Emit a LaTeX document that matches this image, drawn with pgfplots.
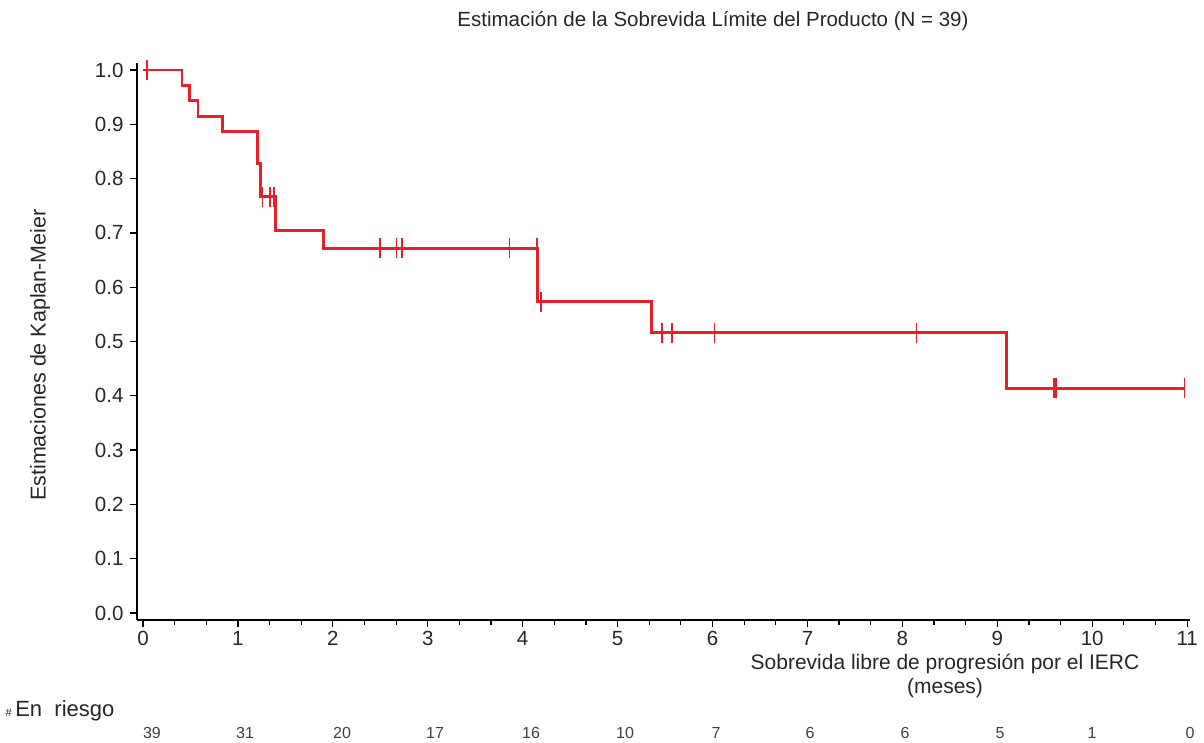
\documentclass[border=0pt]{standalone}
\usepackage{pgfplots}
\pgfplotsset{compat=1.18}
\usepackage{fontspec}
\setmainfont{Liberation Sans}
\definecolor{kmred}{RGB}{232,30,40}

\begin{document}
\begin{tikzpicture}
\useasboundingbox (0pt,0pt) rectangle (1204pt,742pt);
\begin{axis}[
    at={(137pt,122pt)}, anchor=south west,
    scale only axis, width=1053pt, height=557pt,
    xmin=-0.063, xmax=11.03, ymin=-0.013, ymax=1.013,
    axis x line=bottom, axis y line=left,
    axis line style={-, line width=2.6pt, black},
    xtick={0,1,...,11},
    minor x tick num=2,
    ytick={0,0.1,0.2,0.3,0.4,0.5,0.6,0.7,0.8,0.9,1.0},
    yticklabel style={/pgf/number format/fixed, /pgf/number format/fixed zerofill, /pgf/number format/precision=1, xshift=-3pt},
    tick align=outside,
    major tick length=7pt, minor tick length=5pt,
    tick style={black, line width=1.2pt},
    ticklabel style={font=\fontsize{20.5}{22}\selectfont, text=black!85},
    /pgf/number format/assume math mode=true,
    xticklabel style={yshift=-1pt},
    clip=false,
]
% Kaplan-Meier step curve
\addplot[const plot, kmred, line width=2.8pt] coordinates {
    (0,1.0) (0.41,0.972) (0.49,0.944) (0.58,0.915) (0.84,0.887)
    (1.21,0.828) (1.24,0.767) (1.40,0.705) (1.90,0.672) (4.16,0.573)
    (5.36,0.516) (9.10,0.414) (10.97,0.414)
};
% censored observations
\addplot[only marks, mark=|, mark size=10pt, kmred, mark options={line width=1.6pt}] coordinates {
    (0.04,1.0) (1.26,0.767) (1.34,0.767) (1.38,0.767)
    (2.50,0.672) (2.67,0.672) (2.73,0.672) (3.86,0.672) (4.15,0.672)
    (4.19,0.573) (5.47,0.516) (5.57,0.516) (6.02,0.516) (8.15,0.516)
    (9.60,0.414) (9.62,0.414) (10.97,0.414)
};
\end{axis}
\node[font=\fontsize{20.5}{22}\selectfont, text=black!85] at (713pt,721pt) {Estimación de la Sobrevida Límite del Producto (N = 39)};
\node[font=\fontsize{21.5}{22}\selectfont, rotate=90, text=black!85] at (40pt,387pt) {Estimaciones de Kaplan-Meier};
\node[font=\fontsize{21}{24}\selectfont, align=center, text=black!85] at (945pt,66pt) {Sobrevida libre de progresión por el IERC\\(meses)};
\node[font=\fontsize{22}{24}\selectfont, anchor=west, text=black!85] at (2pt,31pt) {{\fontsize{11}{12}\selectfont\#}\,En\ \ riesgo};
\foreach \n/\xx in {39/152,31/245,20/342,17/435,16/531,10/625,7/716,6/810,6/905,5/1000,1/1092,0/1190}
    \node[font=\fontsize{16}{18}\selectfont, text=black!75] at (\xx pt,9pt) {\n};
\end{tikzpicture}
\end{document}
